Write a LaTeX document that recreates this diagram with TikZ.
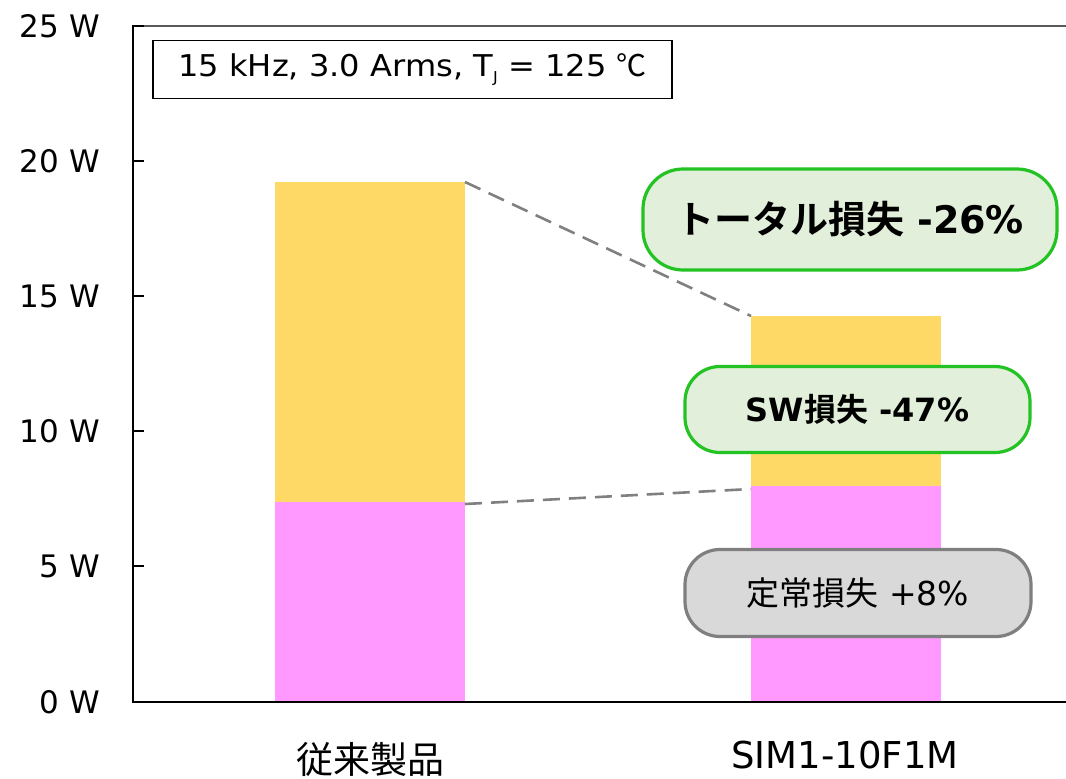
\documentclass[tikz,border=0pt]{standalone}
\usepackage{fontspec}
\setmainfont{DejaVu Sans}
\newfontfamily\wide{DejaVu Sans}[FakeStretch=1.07]
\newfontfamily\jp{Noto Sans CJK JP}[BoldFont={Noto Sans CJK JP Bold}]
\definecolor{barY}{HTML}{FFD966}
\definecolor{barP}{HTML}{FF99FF}
\definecolor{pillG}{HTML}{22C322}
\definecolor{pillGf}{HTML}{E2EFDA}
\definecolor{pillGr}{HTML}{7F7F7F}
\definecolor{pillGrf}{HTML}{D9D9D9}
\definecolor{dashc}{HTML}{808080}
\begin{document}
\begin{tikzpicture}[x=1pt,y=-1pt,
  ylab/.style={anchor=east,font=\fontsize{31}{33}\selectfont,inner sep=0pt},
  catlab/.style={anchor=center,font=\fontsize{37}{39}\selectfont,inner sep=0pt},
  pill/.style={draw,line width=3.2pt,inner sep=0pt},
  conn/.style={draw=dashc,line width=2.6pt,dash pattern=on 17pt off 9pt}]
\useasboundingbox (0,0) rectangle (1066,779);
\fill[white] (0,0) rectangle (1066,779);
% bars
\fill[barP] (275,702) rectangle (465,502);
\fill[barY] (275,502) rectangle (465,182);
\fill[barP] (751,702) rectangle (941,486);
\fill[barY] (751,486) rectangle (941,316);
\coordinate (b1top) at (465,182);
\coordinate (b2top) at (751,316);
\coordinate (b1mid) at (465,504);
\coordinate (b2mid) at (751,489);
% frame
\draw[draw={rgb,255:red,90;green,90;blue,90},line width=1.5pt] (133,26) -- (1066,26);
\draw[line width=2pt] (133,25) -- (133,702);
\draw[line width=2.5pt] (132,702) -- (1066,702);
\foreach \v/\y in {0/702,5/566,10/431,15/296,20/161,25/26}{
  \draw[line width=1.5pt] (133,\y) -- (144,\y);
  \node[ylab] (yl\v) at (100,\y) {\v\ W};
}
% condition box
\node[draw,line width=1.3pt,minimum width=519pt,minimum height=58pt,inner sep=0pt,
  font=\wide\fontsize{30}{32}\selectfont] (cond) at (412.5,69.5)
  {15 kHz, 3.0 Arms, T\raisebox{-0.35ex}{\fontsize{15}{15}\selectfont J} = 125 {\jp ℃}};
% dashed connectors
\draw[conn] (b1top) -- (b2top);
\draw[conn] (b1mid) -- (b2mid);
% pills
\node[pill,draw=pillG,fill=pillGf,rounded corners=40pt,minimum width=414pt,minimum height=101pt,
  font=\fontsize{38}{40}\selectfont\bfseries] (tot) at (850,219.5)
  {{\jp トータル損失} -26\%};
\node[pill,draw=pillG,fill=pillGf,rounded corners=35pt,minimum width=345pt,minimum height=86pt,
  font=\fontsize{32}{34}\selectfont\bfseries] (sw) at (857.5,409.5)
  {SW{\jp 損失} -47\%};
\node[pill,draw=pillGr,fill=pillGrf,rounded corners=35pt,minimum width=346pt,minimum height=87pt,
  font=\fontsize{33}{35}\selectfont] (ss) at (858,593)
  {{\jp 定常損失} +8\%};
% categories
\node[catlab] (c1) at (370,760) {\jp 従来製品};
\node[catlab] (c2) at (845,755) {SIM1-10F1M};
\end{tikzpicture}
\end{document}
